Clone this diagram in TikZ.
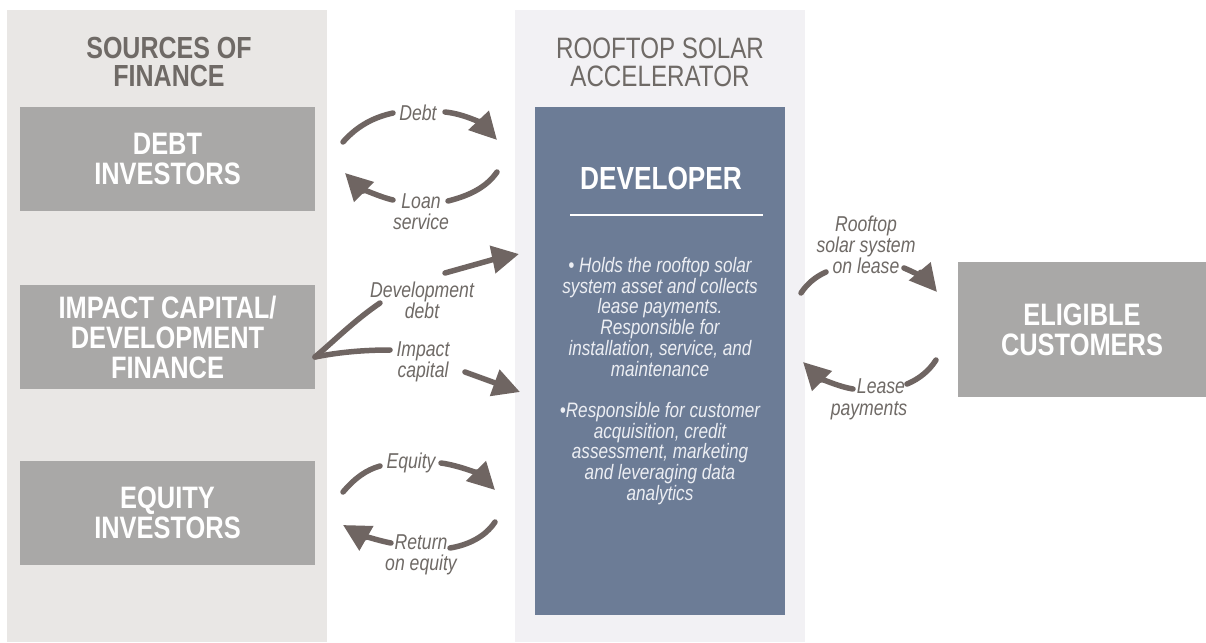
\documentclass[tikz,border=0pt]{standalone}
\usepackage{fontspec}
\setmainfont{Liberation Sans}[FakeStretch=0.82]
\usetikzlibrary{arrows.meta}
\definecolor{leftbg}{HTML}{E9E7E5}
\definecolor{midbg}{HTML}{F2F1F4}
\definecolor{boxgray}{HTML}{A9A8A7}
\definecolor{devblue}{HTML}{6C7C96}
\definecolor{arrowc}{HTML}{6F6562}
\definecolor{headc}{HTML}{6F6A66}
\definecolor{bodyc}{HTML}{ECEEF3}
\tikzset{
  graybox/.style={fill=boxgray, draw=none, text=white, align=center,
    font=\fontsize{31}{30}\selectfont\bfseries},
  header/.style={text=headc, align=center, font=\fontsize{30.5}{28}\selectfont\bfseries},
  flowlbl/.style={text=headc, align=center, font=\fontsize{21.5}{21}\selectfont\itshape, inner sep=0pt},
  flow/.style={draw=arrowc, line width=5.5pt, line cap=round},
  flowhead/.style={flow, -{Triangle[length=27pt,width=27pt]}},
}
\begin{document}
\begin{tikzpicture}[x=1pt,y=-1pt]
\useasboundingbox (0,0) rectangle (1206,642);
\fill[white] (0,0) rectangle (1206,642);
% panels
\fill[leftbg] (7,10) rectangle (327,642);
\fill[midbg] (515,10) rectangle (805,642);
% headers
\node[header] (hsrc) at (169,62) {SOURCES OF\\FINANCE};
\node[header, font=\fontsize{29.5}{28}\selectfont] (hrsa) at (660,62) {ROOFTOP SOLAR\\ACCELERATOR};
% boxes
\node[graybox, minimum width=295pt, minimum height=104pt] (debt) at (167.5,159) {DEBT\\INVESTORS};
\node[graybox, minimum width=295pt, minimum height=104pt] (impact) at (167.5,337) {IMPACT CAPITAL/\\DEVELOPMENT\\FINANCE};
\node[graybox, minimum width=295pt, minimum height=104pt] (equity) at (167.5,513) {EQUITY\\INVESTORS};
\node[graybox, minimum width=248pt, minimum height=135pt] (cust) at (1082,329.5) {ELIGIBLE\\CUSTOMERS};
% developer
\node[fill=devblue, minimum width=250pt, minimum height=508pt, inner sep=0pt] (dev) at (660,361) {};
\node[text=white, font=\fontsize{32}{30}\selectfont\bfseries] (devt) at (661,178) {DEVELOPER};
\draw[white, line width=2.5pt] (570,215) -- (763,215);
\node[text=bodyc, align=center, font=\fontsize{20.9}{20.7}\selectfont\itshape] (devb) at (660,381)
 {• Holds the rooftop solar\\system asset and collects\\lease payments.\\Responsible for\\installation, service, and\\maintenance\\[20.7pt]•Responsible for customer\\acquisition, credit\\assessment, marketing\\and leveraging data\\analytics};
% debt loop
\coordinate (d1) at (343,142); \coordinate (d2) at (393,113);
\coordinate (d3) at (445,112); \coordinate (d4) at (497,140);
\coordinate (d5) at (497,172); \coordinate (d6) at (448,201);
\coordinate (d7) at (393,200); \coordinate (d8) at (345,173);
\draw[flow] (d1) .. controls (358,125) and (375,117) .. (d2);
\node[flowlbl] (ldebt) at (418,113) {Debt};
\draw[flowhead] (d3) .. controls (465,114) and (482,124) .. (d4);
\draw[flow] (d5) .. controls (486,188) and (468,196) .. (d6);
\node[flowlbl] (lloan) at (421,212) {Loan\\service};
\draw[flowhead] (d7) .. controls (376,196) and (358,186) .. (d8);
% impact
\coordinate (j) at (315,357);
\coordinate (i1) at (380,303); \coordinate (i2) at (445,273); \coordinate (i3) at (519,254);
\coordinate (i4) at (390,350); \coordinate (i5) at (465,372); \coordinate (i6) at (520,392);
\draw[flow] (j) .. controls (335,340) and (355,320) .. (i1);
\node[flowlbl] (ldd) at (422,300) {Development\\debt};
\draw[flowhead] (i2) .. controls (470,266) and (495,259) .. (i3);
\draw[flow] (j) .. controls (340,352) and (365,350) .. (i4);
\node[flowlbl] (lic) at (423,362) {Impact\\capital};
\draw[flowhead] (i5) -- (i6);
% equity loop
\coordinate (e1) at (343,492); \coordinate (e2) at (380,466);
\coordinate (e3) at (441,463); \coordinate (e4) at (495,490);
\coordinate (e5) at (495,522); \coordinate (e6) at (450,548);
\coordinate (e7) at (391,543); \coordinate (e8) at (343,525);
\draw[flow] (e1) .. controls (355,478) and (366,470) .. (e2);
\node[flowlbl] (leq) at (411,463) {Equity};
\draw[flowhead] (e3) .. controls (462,466) and (480,475) .. (e4);
\draw[flow] (e5) .. controls (485,537) and (468,545) .. (e6);
\node[flowlbl] (lret) at (421,555) {Return\\on equity};
\draw[flowhead] (e7) .. controls (375,540) and (357,533) .. (e8);
% customer loop
\coordinate (r1) at (801,293); \coordinate (r2) at (826,272);
\coordinate (r3) at (904,268); \coordinate (r4) at (937,292);
\coordinate (r5) at (936,360); \coordinate (r6) at (907,384);
\coordinate (r7) at (853,389); \coordinate (r8) at (803,362);
\draw[flow] (r1) .. controls (807,284) and (815,277) .. (r2);
\node[flowlbl] (lroof) at (866,245) {Rooftop\\solar system\\on lease};
\draw[flowhead] (r3) .. controls (916,273) and (927,280) .. (r4);
\draw[flow] (r5) .. controls (929,371) and (919,379) .. (r6);
\node[flowlbl] (llease) at (881,386) {Lease};
\node[flowlbl] (lpay) at (869,411) {payments};
\draw[flowhead] (r7) .. controls (835,386) and (817,376) .. (r8);
\end{tikzpicture}
\end{document}
